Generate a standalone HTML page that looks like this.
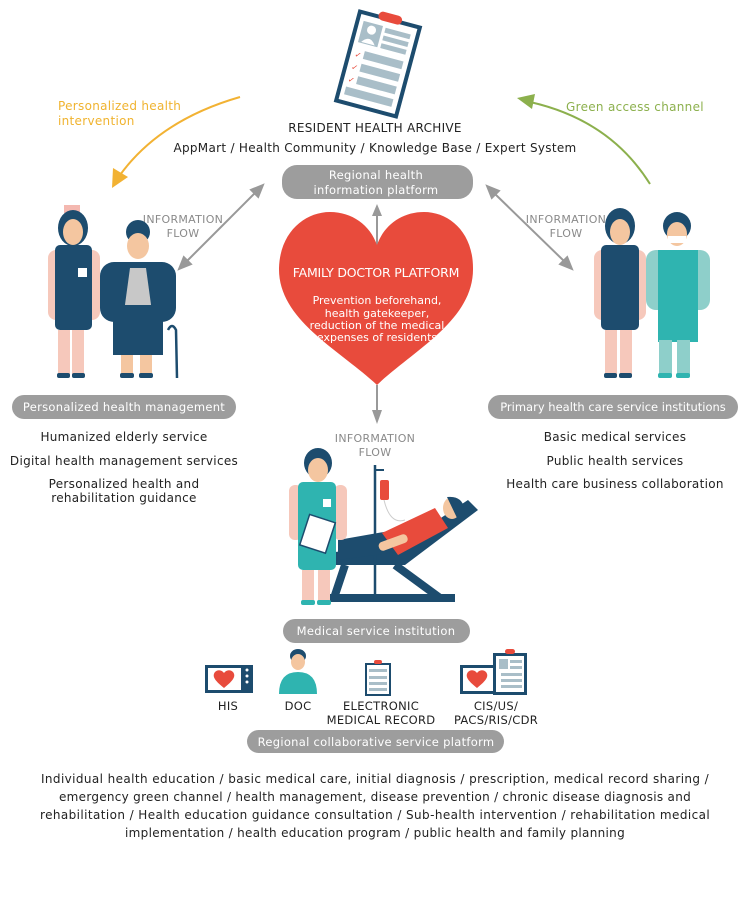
<!DOCTYPE html>
<html><head><meta charset="utf-8"><style>
html,body{margin:0;padding:0;background:#fff}
svg{display:block}
text{font-family:"DejaVu Sans","Liberation Sans",sans-serif;fill:#222;letter-spacing:0.3px}
.pill{fill:#9d9d9d}
.pt{fill:#fff;font-size:11.5px}
.ls{font-size:12px;fill:#222}
.g{fill:#8a8a8a;font-size:11px}
.ht{font-size:11px;fill:#fff;letter-spacing:0}
</style></head><body>
<svg width="750" height="910" viewBox="0 0 750 910" xmlns="http://www.w3.org/2000/svg">
<!-- clipboard -->
<g transform="rotate(15 378 64)">
<rect x="345" y="16" width="66" height="96" fill="#1d4c6e"/>
<rect x="349" y="20" width="58" height="88" fill="#fff"/>
<rect x="366" y="12" width="24" height="9" rx="4.5" fill="#e84b3c"/>
<rect x="353" y="26" width="20" height="22" fill="#a9bec8"/>
<circle cx="363" cy="33" r="4.5" fill="#fff"/><path d="M356,47 Q363,37 370,47Z" fill="#fff"/>
<rect x="376" y="27" width="26" height="5" fill="#a9bec8"/><rect x="376" y="35" width="26" height="5" fill="#a9bec8"/><rect x="376" y="43" width="26" height="5" fill="#a9bec8"/>
<rect x="362" y="55" width="40" height="8" fill="#a9bec8"/><rect x="362" y="68" width="40" height="8" fill="#a9bec8"/><rect x="362" y="81" width="40" height="8" fill="#a9bec8"/><rect x="353" y="94" width="49" height="8" fill="#a9bec8"/>
<text x="353" y="63" style="font-size:8px;fill:#e84b3c">✓</text><text x="353" y="76" style="font-size:8px;fill:#e84b3c">✓</text><text x="353" y="89" style="font-size:8px;fill:#e84b3c">✓</text>
</g>
<text x="375" y="132" text-anchor="middle" style="font-size:12px">RESIDENT HEALTH ARCHIVE</text>
<text x="375" y="152" text-anchor="middle" style="font-size:12px">AppMart / Health Community / Knowledge Base / Expert System</text>
<!-- curved arrows -->
<text x="58" y="110" style="font-size:12px;fill:#f0b32f">Personalized health</text>
<text x="58" y="125" style="font-size:12px;fill:#f0b32f">intervention</text>
<path d="M240,97 Q160,120 120,175" fill="none" stroke="#f2b233" stroke-width="2"/>
<path d="M112,188 L113,168 L128,177 Z" fill="#f2b233"/>
<text x="566" y="111" style="font-size:12px;fill:#8cb04d">Green access channel</text>
<path d="M650,184 Q610,120 530,102" fill="none" stroke="#8cb04d" stroke-width="2"/>
<path d="M517,98 L535,94 L532,109 Z" fill="#8cb04d"/>
<!-- regional pill -->
<rect x="282" y="165" width="191" height="34" rx="15" class="pill"/>
<text x="376" y="179" text-anchor="middle" class="pt">Regional health</text>
<text x="376" y="194" text-anchor="middle" class="pt">information platform</text>
<!-- gray arrows -->
<line x1="255" y1="193" x2="186" y2="262" stroke="#999" stroke-width="2"/>
<path d="M262,186 L252,190 L258,196Z M180,268 L190,264 L184,258Z" fill="#999" stroke="#999" stroke-width="3"/>
<line x1="494" y1="193" x2="565" y2="262" stroke="#999" stroke-width="2"/>
<path d="M488,187 L498,191 L492,197Z M571,268 L561,264 L567,258Z" fill="#999" stroke="#999" stroke-width="3"/>
<line x1="377" y1="210" x2="377" y2="245" stroke="#999" stroke-width="2"/>
<path d="M377,204 L372,216 L382,216Z" fill="#999"/>
<line x1="377" y1="385" x2="377" y2="418" stroke="#999" stroke-width="2"/>
<path d="M377,424 L372,410 L382,410Z" fill="#999"/>
<text x="183" y="223" text-anchor="middle" class="g">INFORMATION</text>
<text x="183" y="237" text-anchor="middle" class="g">FLOW</text>
<text x="566" y="223" text-anchor="middle" class="g">INFORMATION</text>
<text x="566" y="237" text-anchor="middle" class="g">FLOW</text>
<text x="375" y="442" text-anchor="middle" class="g">INFORMATION</text>
<text x="375" y="456" text-anchor="middle" class="g">FLOW</text>
<!-- heart -->
<path d="M377,385 C340,350 278,320 279,268 C280,232 305,212 330,212 C352,212 370,225 377,245 C384,225 402,212 424,212 C449,212 473,232 473,268 C474,320 414,350 377,385 Z" fill="#e84b3c"/>
<text x="376" y="277" text-anchor="middle" style="font-size:12.5px;fill:#fff;letter-spacing:-0.2px">FAMILY DOCTOR PLATFORM</text>
<text x="377" y="304" text-anchor="middle" class="ht">Prevention beforehand,</text>
<text x="377" y="317" text-anchor="middle" class="ht">health gatekeeper,</text>
<text x="377" y="329" text-anchor="middle" class="ht">reduction of the medical</text>
<text x="377" y="341" text-anchor="middle" class="ht">expenses of residents</text>
<!-- left figures: nurse -->
<g>
<rect x="64" y="205" width="16" height="8" fill="#f4b8b0"/>
<ellipse cx="73" cy="228" rx="15" ry="18" fill="#1d4c6e"/>
<ellipse cx="73" cy="232" rx="10" ry="13" fill="#f4c6a0"/>
<rect x="48" y="250" width="18" height="70" rx="8" fill="#f6c8bb"/>
<rect x="82" y="250" width="18" height="70" rx="8" fill="#f6c8bb"/>
<rect x="55" y="245" width="37" height="85" rx="5" fill="#1d4c6e"/>
<rect x="78" y="268" width="9" height="9" fill="#fff"/>
<rect x="58" y="330" width="12" height="45" fill="#f6c8bb"/><rect x="72" y="330" width="12" height="45" fill="#f6c8bb"/>
<rect x="57" y="373" width="13" height="5" rx="2" fill="#1d4c6e"/><rect x="72" y="373" width="13" height="5" rx="2" fill="#1d4c6e"/>
</g>
<!-- elderly -->
<g>
<circle cx="138" cy="232" r="12" fill="#1d4c6e"/>
<ellipse cx="138" cy="246" rx="11" ry="13" fill="#f4c6a0"/>
<rect x="100" y="262" width="76" height="60" rx="14" fill="#1d4c6e"/>
<path d="M130,268 L146,268 L152,312 L124,312Z" fill="#c8c8c8"/>
<rect x="113" y="305" width="50" height="50" fill="#1d4c6e"/>
<rect x="121" y="355" width="12" height="20" fill="#f4c6a0"/><rect x="140" y="355" width="12" height="20" fill="#f4c6a0"/>
<rect x="120" y="373" width="14" height="5" rx="2" fill="#1d4c6e"/><rect x="139" y="373" width="14" height="5" rx="2" fill="#1d4c6e"/>
<path d="M168,330 Q172,322 176,330 L177,378" fill="none" stroke="#1d4c6e" stroke-width="2.5"/>
</g>
<!-- right figures -->
<g>
<ellipse cx="620" cy="226" rx="15" ry="18" fill="#1d4c6e"/>
<ellipse cx="620" cy="232" rx="10" ry="13" fill="#f4c6a0"/>
<rect x="594" y="250" width="18" height="70" rx="8" fill="#f6c8bb"/>
<rect x="628" y="250" width="18" height="70" rx="8" fill="#f6c8bb"/>
<rect x="601" y="245" width="38" height="85" rx="5" fill="#1d4c6e"/>
<rect x="605" y="330" width="12" height="45" fill="#f6c8bb"/><rect x="620" y="330" width="12" height="45" fill="#f6c8bb"/>
<rect x="604" y="373" width="13" height="5" rx="2" fill="#1d4c6e"/><rect x="619" y="373" width="13" height="5" rx="2" fill="#1d4c6e"/>
<ellipse cx="677" cy="226" rx="14" ry="14" fill="#1d4c6e"/>
<ellipse cx="677" cy="234" rx="10" ry="12" fill="#f4c6a0"/>
<rect x="668" y="236" width="18" height="7" fill="#fff"/>
<rect x="646" y="250" width="64" height="60" rx="10" fill="#8ecfca"/>
<rect x="658" y="250" width="40" height="92" fill="#2fb4b0"/>
<rect x="659" y="340" width="13" height="35" fill="#8ecfca"/><rect x="677" y="340" width="13" height="35" fill="#8ecfca"/>
<rect x="658" y="373" width="14" height="5" rx="2" fill="#2fb4b0"/><rect x="676" y="373" width="14" height="5" rx="2" fill="#2fb4b0"/>
</g>
<!-- side pills -->
<rect x="12" y="395" width="224" height="24" rx="12" class="pill"/>
<text x="124" y="411" text-anchor="middle" class="pt">Personalized health management</text>
<rect x="488" y="395" width="250" height="24" rx="12" class="pill"/>
<text x="613" y="411" text-anchor="middle" class="pt" style="letter-spacing:0">Primary health care service institutions</text>
<text x="124" y="441" text-anchor="middle" class="ls">Humanized elderly service</text>
<text x="124" y="465" text-anchor="middle" class="ls">Digital health management services</text>
<text x="124" y="488" text-anchor="middle" class="ls">Personalized health and</text>
<text x="124" y="502" text-anchor="middle" class="ls">rehabilitation guidance</text>
<text x="615" y="441" text-anchor="middle" class="ls">Basic medical services</text>
<text x="615" y="465" text-anchor="middle" class="ls">Public health services</text>
<text x="615" y="488" text-anchor="middle" class="ls">Health care business collaboration</text>
<!-- medical scene -->
<g>
<path d="M345,565 L334,598 M395,565 L440,598 M330,598 L455,598" stroke="#1d4c6e" stroke-width="8" fill="none"/>
<path d="M335,552 L400,545 L468,500 L478,510 L405,565 L335,565Z" fill="#1d4c6e"/>
<line x1="375" y1="465" x2="375" y2="600" stroke="#1d4c6e" stroke-width="2.5"/>
<line x1="375" y1="470" x2="384" y2="470" stroke="#1d4c6e" stroke-width="2"/>
<rect x="380" y="480" width="9" height="20" rx="2" fill="#e84b3c"/>
<path d="M384,500 Q390,525 405,520" stroke="#ccc" stroke-width="1" fill="none"/>
<path d="M338,540 L395,530 L398,552 L338,560Z" fill="#1d4c6e"/>
<path d="M382,533 L435,508 L448,528 L398,555Z" fill="#e84b3c"/>
<rect x="378" y="538" width="30" height="9" rx="4" fill="#f4c6a0" transform="rotate(-20 393 542)"/>
<ellipse cx="452" cy="508" rx="9" ry="11" fill="#f4c6a0"/>
<path d="M447,497 Q465,495 465,515 L458,520Z" fill="#1d4c6e"/>
<ellipse cx="318" cy="463" rx="14" ry="15" fill="#1d4c6e"/>
<ellipse cx="318" cy="470" rx="10" ry="12" fill="#f4c6a0"/>
<rect x="289" y="485" width="13" height="55" rx="6" fill="#f6c8bb"/>
<rect x="334" y="485" width="13" height="55" rx="6" fill="#f6c8bb"/>
<rect x="298" y="482" width="38" height="88" rx="5" fill="#2fb4b0"/>
<rect x="323" y="499" width="8" height="8" fill="#fff"/>
<rect x="304" y="518" width="27" height="32" fill="#fff" stroke="#1d4c6e" stroke-width="1.5" transform="rotate(18 318 534)"/>
<rect x="302" y="570" width="12" height="32" fill="#f6c8bb"/><rect x="318" y="570" width="12" height="32" fill="#f6c8bb"/>
<rect x="301" y="600" width="14" height="5" rx="2" fill="#2fb4b0"/><rect x="317" y="600" width="14" height="5" rx="2" fill="#2fb4b0"/>
</g>
<rect x="283" y="619" width="187" height="24" rx="12" class="pill"/>
<text x="376" y="635" text-anchor="middle" class="pt">Medical service institution</text>
<!-- icons -->
<g>
<rect x="205" y="665" width="48" height="28" fill="#1d4c6e"/><rect x="208" y="668" width="33" height="22" fill="#fff"/>
<path d="M224,688 C214,680 212,676 215,672 C218,669 222,670 224,673 C226,670 230,669 233,672 C236,676 234,680 224,688Z" fill="#e84b3c"/>
<circle cx="247" cy="670" r="1.5" fill="#fff"/><circle cx="247" cy="676" r="1.5" fill="#fff"/><circle cx="247" cy="682" r="1.5" fill="#fff"/>
<ellipse cx="298" cy="656" rx="8" ry="7" fill="#1d4c6e"/><ellipse cx="298" cy="662" rx="7" ry="8" fill="#f4c6a0"/>
<path d="M279,694 Q279,672 298,672 Q317,672 317,694Z" fill="#2fb4b0"/>
<rect x="365" y="663" width="26" height="33" fill="#1d4c6e"/><rect x="367" y="665" width="22" height="29" fill="#fff"/>
<rect x="369" y="669" width="18" height="3" fill="#a9bec8"/><rect x="369" y="676" width="18" height="3" fill="#a9bec8"/><rect x="369" y="682" width="18" height="3" fill="#a9bec8"/><rect x="369" y="688" width="18" height="3" fill="#a9bec8"/>
<rect x="374" y="660" width="8" height="4" rx="2" fill="#e84b3c"/>
<rect x="460" y="665" width="38" height="29" fill="#1d4c6e"/><rect x="463" y="668" width="32" height="23" fill="#fff"/>
<path d="M477,688 C467,680 465,676 468,672 C471,669 475,670 477,673 C479,670 483,669 486,672 C489,676 487,680 477,688Z" fill="#e84b3c"/>
<rect x="493" y="653" width="34" height="42" fill="#1d4c6e"/><rect x="496" y="656" width="28" height="36" fill="#fff"/>
<rect x="499" y="659" width="9" height="10" fill="#a9bec8"/><rect x="510" y="660" width="12" height="3" fill="#a9bec8"/><rect x="510" y="666" width="12" height="3" fill="#a9bec8"/>
<rect x="501" y="673" width="21" height="3" fill="#a9bec8"/><rect x="501" y="679" width="21" height="3" fill="#a9bec8"/><rect x="501" y="685" width="21" height="3" fill="#a9bec8"/>
<rect x="505" y="649" width="10" height="5" rx="2.5" fill="#e84b3c"/>
</g>
<text x="228" y="710" text-anchor="middle" style="font-size:11.5px">HIS</text>
<text x="298" y="710" text-anchor="middle" style="font-size:11.5px">DOC</text>
<text x="381" y="710" text-anchor="middle" style="font-size:11.5px">ELECTRONIC</text>
<text x="381" y="724" text-anchor="middle" style="font-size:11.5px">MEDICAL RECORD</text>
<text x="496" y="710" text-anchor="middle" style="font-size:11.5px">CIS/US/</text>
<text x="496" y="724" text-anchor="middle" style="font-size:11.5px">PACS/RIS/CDR</text>
<rect x="247" y="730" width="257" height="23" rx="11.5" class="pill"/>
<text x="376" y="746" text-anchor="middle" class="pt">Regional collaborative service platform</text>
<text x="375" y="783" text-anchor="middle" class="ls" textLength="668">Individual health education / basic medical care, initial diagnosis / prescription, medical record sharing /</text>
<text x="375" y="801" text-anchor="middle" class="ls" textLength="632">emergency green channel / health management, disease prevention / chronic disease diagnosis and</text>
<text x="375" y="819" text-anchor="middle" class="ls" textLength="670">rehabilitation / Health education guidance consultation / Sub-health intervention / rehabilitation medical</text>
<text x="375" y="837" text-anchor="middle" class="ls" textLength="500">implementation / health education program / public health and family planning</text>
</svg>
</body></html>
